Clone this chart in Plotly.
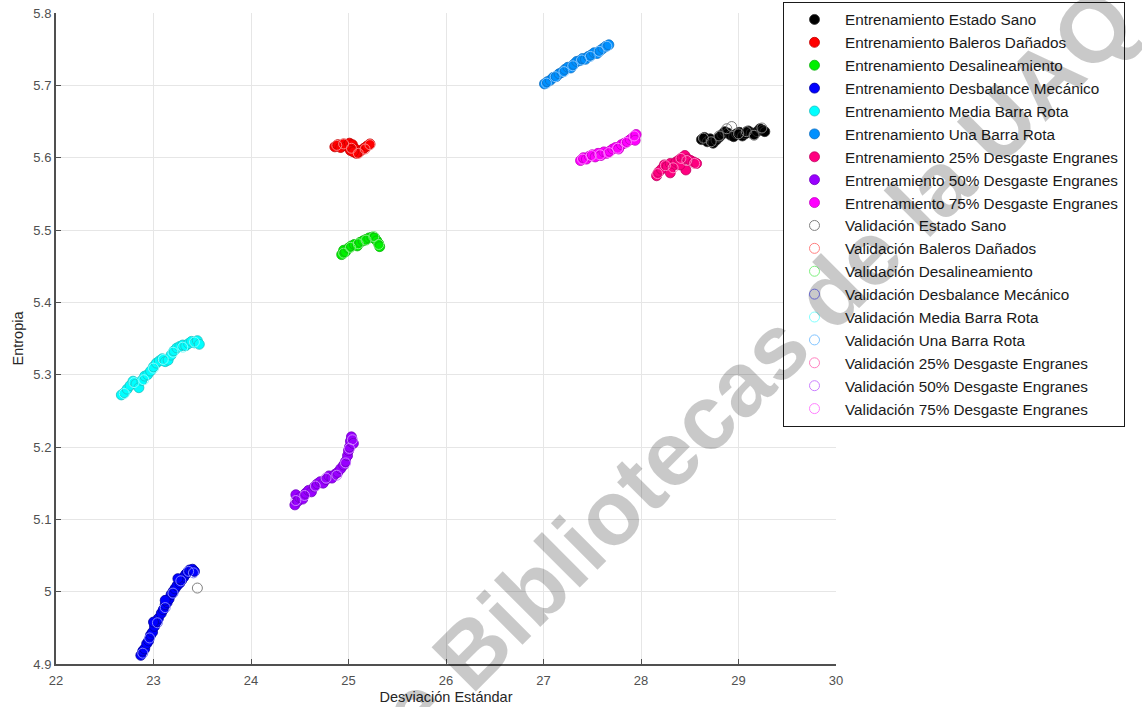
import plotly.graph_objects as go

# ---- axis setup ----
x_ticks = [22, 23, 24, 25, 26, 27, 28, 29, 30]
y_ticks = [4.9, 5.0, 5.1, 5.2, 5.3, 5.4, 5.5, 5.6, 5.7, 5.8]
y_tick_text = ["4.9", "5", "5.1", "5.2", "5.3", "5.4", "5.5", "5.6", "5.7", "5.8"]

condiciones = [
    "Estado Sano",
    "Baleros Dañados",
    "Desalineamiento",
    "Desbalance Mecánico",
    "Media Barra Rota",
    "Una Barra Rota",
    "25% Desgaste Engranes",
    "50% Desgaste Engranes",
    "75% Desgaste Engranes",
]

colores_ent = ["#000000", "#ff0000", "#00f000", "#0000ff", "#00ffff",
               "#0090ff", "#ff0080", "#9900ff", "#ff00ff"]
colores_val = ["#808080", "#ff8080", "#80f080", "#8080ff", "#80ffff",
               "#80c4ff", "#ff80c0", "#cc80ff", "#ff80ff"]
bordes_ent = ["#303030", "#c00000", "#10b010", "#0000a0", "#20c0c0",
              "#1070c0", "#c00060", "#7000c0", "#c000c0"]

# ---- training features (std. deviation, entropy) ----
sano_x = [28.62, 28.65, 28.68, 28.71, 28.74, 28.77, 28.80, 28.83, 28.86, 28.89, 28.92, 28.95,
          28.98, 29.01, 29.04, 29.07, 29.10, 29.13, 29.16, 29.19, 29.22, 29.25, 29.27]
sano_y = [5.625, 5.628, 5.622, 5.626, 5.620, 5.624, 5.628, 5.632, 5.636, 5.634, 5.631, 5.629,
          5.633, 5.635, 5.630, 5.633, 5.637, 5.634, 5.632, 5.636, 5.640, 5.638, 5.636]

baleros_x = [24.86, 24.89, 24.92, 24.95, 24.98, 25.01, 25.04, 25.07, 25.10, 25.13, 25.16,
             25.19, 25.22, 25.02, 25.08, 25.05]
baleros_y = [5.615, 5.618, 5.614, 5.619, 5.616, 5.620, 5.618, 5.612, 5.607, 5.610, 5.613,
             5.616, 5.619, 5.610, 5.606, 5.608]

desal_x = [24.93, 24.95, 24.97, 25.00, 25.03, 25.06, 25.09, 25.12, 25.15, 25.18, 25.21,
           25.24, 25.27, 25.29, 25.31, 25.32]
desal_y = [5.466, 5.472, 5.470, 5.475, 5.478, 5.480, 5.478, 5.483, 5.485, 5.487, 5.489,
           5.490, 5.489, 5.485, 5.481, 5.477]

desbal_x = [22.87, 22.89, 22.91, 22.93, 22.95, 22.97, 22.99, 23.01, 23.03, 23.05, 23.08,
            23.10, 23.12, 23.14, 23.16, 23.18, 23.20, 23.22, 23.24, 23.27, 23.29, 23.31,
            23.33, 23.35, 23.37, 23.40, 23.42, 23.00, 23.12, 23.25]
desbal_y = [4.912, 4.918, 4.921, 4.928, 4.932, 4.940, 4.944, 4.952, 4.958, 4.963, 4.970,
            4.975, 4.982, 4.985, 4.990, 4.996, 5.000, 5.004, 5.008, 5.012, 5.016, 5.020,
            5.024, 5.027, 5.030, 5.031, 5.028, 4.958, 4.988, 5.018]

media_x = [22.67, 22.70, 22.73, 22.76, 22.79, 22.82, 22.85, 22.88, 22.91, 22.94, 22.97,
           23.00, 23.03, 23.06, 23.09, 23.12, 23.15, 23.18, 23.21, 23.24, 23.27, 23.30,
           23.33, 23.36, 23.39, 23.42, 23.45, 23.47]
media_y = [5.272, 5.275, 5.280, 5.285, 5.291, 5.287, 5.282, 5.292, 5.298, 5.300, 5.305,
           5.311, 5.316, 5.319, 5.322, 5.318, 5.320, 5.327, 5.333, 5.337, 5.339, 5.341,
           5.340, 5.343, 5.346, 5.344, 5.347, 5.342]

una_x = [27.01, 27.04, 27.07, 27.10, 27.13, 27.16, 27.19, 27.22, 27.25, 27.28, 27.31,
         27.34, 27.37, 27.40, 27.43, 27.46, 27.49, 27.52, 27.55, 27.58, 27.61, 27.64, 27.67]
una_y = [5.702, 5.705, 5.707, 5.711, 5.712, 5.716, 5.718, 5.722, 5.725, 5.724, 5.729,
         5.733, 5.734, 5.737, 5.736, 5.740, 5.742, 5.745, 5.744, 5.748, 5.751, 5.754, 5.756]

d25_x = [28.16, 28.18, 28.21, 28.24, 28.27, 28.30, 28.33, 28.36, 28.39, 28.42, 28.45,
         28.48, 28.51, 28.54, 28.57, 28.30, 28.46, 28.40]
d25_y = [5.575, 5.580, 5.584, 5.590, 5.588, 5.592, 5.589, 5.594, 5.597, 5.600, 5.603,
         5.598, 5.596, 5.594, 5.592, 5.579, 5.583, 5.590]

d50_x = [24.45, 24.46, 24.48, 24.50, 24.53, 24.56, 24.59, 24.62, 24.65, 24.68, 24.71,
         24.74, 24.77, 24.80, 24.83, 24.86, 24.89, 24.92, 24.95, 24.97, 24.99, 25.00,
         25.01, 25.02, 25.03, 25.05]
d50_y = [5.120, 5.134, 5.125, 5.130, 5.128, 5.136, 5.140, 5.138, 5.145, 5.149, 5.152,
         5.150, 5.155, 5.160, 5.157, 5.162, 5.165, 5.170, 5.175, 5.180, 5.188, 5.195,
         5.200, 5.208, 5.214, 5.205]

d75_x = [27.38, 27.41, 27.44, 27.47, 27.50, 27.53, 27.56, 27.59, 27.62, 27.65, 27.68,
         27.71, 27.74, 27.77, 27.80, 27.83, 27.86, 27.89, 27.92, 27.95, 27.94]
d75_y = [5.596, 5.600, 5.598, 5.602, 5.604, 5.601, 5.606, 5.603, 5.608, 5.606, 5.609,
         5.612, 5.614, 5.612, 5.618, 5.620, 5.622, 5.625, 5.628, 5.632, 5.624]

# ---- validation features ----
v_sano_x = [28.64, 28.72, 28.80, 28.88, 28.93, 29.00, 29.08, 29.16, 29.24, 23.45]
v_sano_y = [5.627, 5.622, 5.630, 5.640, 5.643, 5.633, 5.636, 5.631, 5.641, 5.005]
v_baleros_x = [24.88, 24.95, 25.03, 25.10, 25.17, 25.22]
v_baleros_y = [5.617, 5.619, 5.613, 5.606, 5.612, 5.618]
v_desal_x = [24.95, 25.02, 25.10, 25.18, 25.26, 25.31]
v_desal_y = [5.468, 5.476, 5.481, 5.486, 5.491, 5.480]
v_desbal_x = [22.89, 22.96, 23.04, 23.12, 23.20, 23.28, 23.36, 23.41]
v_desbal_y = [4.915, 4.936, 4.957, 4.978, 4.998, 5.015, 5.028, 5.026]
v_media_x = [22.70, 22.80, 22.90, 23.00, 23.10, 23.20, 23.30, 23.42]
v_media_y = [5.274, 5.289, 5.293, 5.309, 5.321, 5.331, 5.338, 5.345]
v_una_x = [27.03, 27.12, 27.21, 27.30, 27.39, 27.48, 27.57, 27.65]
v_una_y = [5.703, 5.712, 5.719, 5.727, 5.735, 5.740, 5.747, 5.754]
v_d25_x = [28.17, 28.25, 28.33, 28.41, 28.47, 28.55]
v_d25_y = [5.578, 5.589, 5.586, 5.599, 5.596, 5.592]
v_d50_x = [24.46, 24.55, 24.66, 24.77, 24.88, 24.97, 25.01, 25.04]
v_d50_y = [5.126, 5.133, 5.146, 5.157, 5.161, 5.178, 5.198, 5.210]
v_d75_x = [27.40, 27.49, 27.58, 27.67, 27.76, 27.85, 27.93]
v_d75_y = [5.598, 5.603, 5.604, 5.607, 5.613, 5.621, 5.630]

entrenamiento = [(sano_x, sano_y), (baleros_x, baleros_y), (desal_x, desal_y),
                 (desbal_x, desbal_y), (media_x, media_y), (una_x, una_y),
                 (d25_x, d25_y), (d50_x, d50_y), (d75_x, d75_y)]
validacion = [(v_sano_x, v_sano_y), (v_baleros_x, v_baleros_y), (v_desal_x, v_desal_y),
              (v_desbal_x, v_desbal_y), (v_media_x, v_media_y), (v_una_x, v_una_y),
              (v_d25_x, v_d25_y), (v_d50_x, v_d50_y), (v_d75_x, v_d75_y)]

FONT = "Liberation Sans, Arial, sans-serif"

fig = go.Figure()

for nombre, (xs, ys), c, b in zip(condiciones, entrenamiento, colores_ent, bordes_ent):
    fig.add_trace(go.Scatter(
        x=xs, y=ys, mode="markers", name="Entrenamiento " + nombre,
        marker=dict(symbol="circle", size=10, color=c, line=dict(color=b, width=0.8)),
    ))

for nombre, (xs, ys), c in zip(condiciones, validacion, colores_val):
    fig.add_trace(go.Scatter(
        x=xs, y=ys, mode="markers", name="Validación " + nombre,
        marker=dict(symbol="circle-open", size=10, color=c, line=dict(color=c, width=1)),
    ))

axis_common = dict(
    showgrid=True, gridcolor="#e6e6e6", gridwidth=1,
    showline=True, linecolor="#505050", linewidth=2,
    ticks="inside", ticklen=5, tickcolor="#505050", tickwidth=1,
    zeroline=False,
    tickfont=dict(family=FONT, size=13, color="#505050"),
)

fig.update_xaxes(
    range=[22, 30], tickvals=x_ticks, ticklabelstandoff=3, **axis_common,
    title=dict(text="Desviación Estándar", standoff=5,
               font=dict(family=FONT, size=14.5, color="#262626")),
)
fig.update_yaxes(
    range=[4.9, 5.8], tickvals=y_ticks, ticktext=y_tick_text, **axis_common,
    title=dict(text="Entropia", standoff=6,
               font=dict(family=FONT, size=14.5, color="#262626")),
)

# Library watermark across the figure
fig.add_annotation(
    text="<b>Dirección General de Bibliotecas de la UAQ</b>",
    xref="paper", yref="paper", x=(452 - 56) / 780, y=(664 - 670) / 651,
    xanchor="center", yanchor="middle", showarrow=False, textangle=-45,
    font=dict(family=FONT, size=91, color="rgba(0,0,0,0.21)"),
)

fig.update_layout(
    width=1142, height=707,
    margin=dict(l=56, r=306, t=13, b=43, autoexpand=False),
    paper_bgcolor="white", plot_bgcolor="white",
    showlegend=True,
    legend=dict(
        x=(783 - 56) / 780, y=(664 - 2) / 651, xanchor="left", yanchor="top",
        bgcolor="white", bordercolor="#1a1a1a", borderwidth=1,
        font=dict(family=FONT, size=15.3, color="#1a1a1a"),
        itemwidth=51, tracegroupgap=0, maxheight=700,
    ),
)

fig.write_html("out.html")
